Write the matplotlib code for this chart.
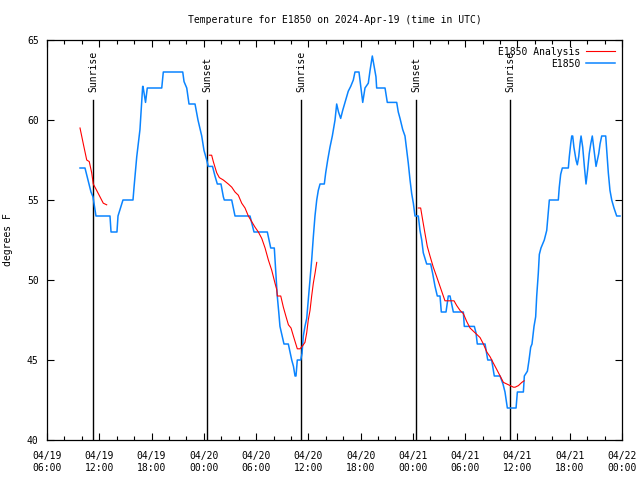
import pandas as pd
import matplotlib
matplotlib.use("Agg")
import matplotlib.pyplot as plt
import matplotlib.dates as mdates

START = pd.Timestamp("2024-04-19 06:00")
END = pd.Timestamp("2024-04-22 00:00")

# observed temperature, hours since 04/19 06:00 UTC
obs_hours = [3.79, 4.36, 4.59, 4.82, 5.05, 5.28, 5.62, 7.23, 7.35, 8.03, 8.15, 8.72, 9.87, 9.99,
             10.30, 10.67, 10.98, 11.02, 11.31, 11.51, 13.17, 13.35, 15.58, 15.73, 16.04, 16.30,
             16.99, 17.33, 17.76, 18.02, 18.33, 18.51, 19.00, 19.28, 19.55, 19.97, 20.24, 20.35,
             21.20, 21.58, 23.30, 23.76, 25.29, 25.68, 26.09, 26.29, 26.43, 26.60, 26.74, 27.20,
             27.70, 28.09, 28.29, 28.47, 28.58, 28.73, 29.12, 29.27, 29.42, 29.61, 29.81, 29.99,
             30.19, 30.38, 30.57, 30.76, 30.96, 31.14, 31.34, 31.83, 31.99, 32.22, 32.48, 32.75,
             33.06, 33.25, 33.46, 33.71, 33.94, 34.21, 34.58, 34.86, 35.16, 35.35, 35.81, 36.01,
             36.24, 36.50, 36.88, 37.08, 37.34, 37.53, 37.76, 37.84, 38.80, 39.06, 40.14, 40.32,
             40.52, 40.83, 41.09, 41.29, 41.47, 41.67, 41.86, 42.05, 42.24, 42.62, 42.81, 43.01,
             43.19, 43.58, 44.04, 44.27, 44.54, 44.80, 45.11, 45.26, 45.80, 45.99, 46.06, 46.26,
             46.64, 47.79, 47.90, 49.05, 49.24, 49.39, 50.28, 50.59, 51.04, 51.34, 52.00, 52.34,
             52.57, 52.84, 53.84, 53.99, 54.68, 54.79, 55.14, 55.33, 55.52, 55.67, 55.90, 56.09,
             56.21, 56.39, 56.51, 56.70, 57.08, 57.36, 57.54, 57.66, 58.69, 58.80, 58.96, 59.15,
             59.84, 59.95, 60.11, 60.23, 60.34, 60.48, 60.72, 60.87, 61.03, 61.18, 61.30, 61.49,
             61.68, 61.87, 62.06, 62.24, 62.41, 62.59, 62.79, 63.02, 63.33, 63.48, 63.67, 64.13,
             64.25, 64.43, 64.62, 64.82, 65.08, 65.39, 65.77]
obs_temp = [57, 57, 56.5, 56, 55.5, 55.2, 54, 54, 53, 53, 54, 55, 55, 55.8,
            57.7, 59.4, 62.1, 62.1, 61.1, 62, 62, 63, 63, 62.4, 62, 61,
            61, 60, 59, 58.1, 57.5, 57.1, 57.1, 56.5, 56, 56, 55.2, 55,
            55, 54, 54, 53, 53, 52, 52, 50.2, 49, 48, 47.1, 46,
            46, 45, 44.6, 44, 44, 45, 45, 45.4, 46.5, 47.1, 47.6, 48.75,
            50, 51.25, 52.7, 54, 55, 55.6, 56, 56, 56.7, 57.5, 58.3, 59,
            60, 61, 60.5, 60.1, 60.6, 61.1, 61.8, 62.1, 62.5, 63, 63, 62.1,
            61.1, 62, 62.3, 63.1, 64, 63.4, 62.7, 62, 62, 61.1, 61.1, 60.5,
            60.1, 59.4, 59, 58.1, 57.3, 56.25, 55.4, 54.8, 54, 54, 53.1, 52.5,
            51.7, 51, 51, 50.4, 49.6, 49, 49, 48, 48, 48.75, 49, 49,
            48, 48, 47.1, 47.1, 46.7, 46, 46, 45, 45, 44, 44, 43.5,
            43, 42, 42, 43, 43, 44, 44.3, 45, 45.8, 46, 47.1, 47.7,
            49, 50.4, 51.6, 52, 52.5, 53.1, 54.2, 55, 55, 55.8, 56.6, 57,
            57, 57.7, 58.5, 59, 59, 58.3, 57.5, 57.2, 57.7, 58.5, 59, 58.3,
            57.1, 56, 56.9, 57.9, 58.5, 59, 58.1, 57.1, 57.9, 58.5, 59, 59,
            58.1, 56.7, 55.6, 55, 54.5, 54, 54]

# analysis runs (three separate segments)
ana1_hours = [3.79, 4.17, 4.56, 4.85, 5.13, 5.31, 5.70, 6.08, 6.46, 6.85]
ana1_temp = [59.5, 58.5, 57.5, 57.4, 56.7, 56, 55.6, 55.2, 54.8, 54.7]
ana2_hours = [18.63, 18.90, 19.09, 19.48, 19.78, 20.24, 20.81, 21.21, 21.58, 21.96, 22.35,
              22.73, 23.11, 23.88, 24.26, 24.65, 25.03, 25.41, 25.80, 26.17, 26.37, 26.44,
              26.83, 27.13, 27.44, 27.71, 28.01, 28.28, 28.56, 28.73, 29.04, 29.35, 29.61,
              29.81, 29.99, 30.19, 30.38, 30.57, 30.76, 30.96]
ana2_temp = [57.8, 57.8, 57.4, 56.7, 56.4, 56.25, 56, 55.8, 55.5, 55.3, 54.8,
             54.5, 54, 53.3, 53, 52.6, 52, 51.25, 50.6, 49.8, 49.4, 49,
             49, 48.3, 47.7, 47.2, 47, 46.5, 46, 45.7, 45.7, 45.9, 46.1,
             46.7, 47.5, 48.1, 49, 49.8, 50.4, 51.1]
ana3_hours = [42.62, 42.89, 43.12, 43.39, 43.65, 43.96, 44.34, 44.73, 45.11, 45.49, 45.68,
              46.72, 47.03, 47.41, 47.79, 48.18, 48.56, 48.94, 49.33, 49.71, 50.09, 50.48,
              50.86, 51.24, 51.63, 52.01, 52.39, 52.78, 53.16, 53.54, 53.73, 54.11, 54.50, 54.76]
ana3_temp = [54.5, 54.5, 53.75, 52.9, 52.1, 51.5, 50.8, 50.2, 49.6, 49, 48.7,
             48.7, 48.4, 48.1, 47.9, 47.4, 47, 46.8, 46.6, 46.4, 46, 45.5,
             45.2, 44.8, 44.4, 44, 43.6, 43.5, 43.4, 43.3, 43.3, 43.4, 43.6, 43.7]

sun_hours = [5.28, 18.37, 29.16, 42.37, 53.16]
sun_labels = ["Sunrise", "Sunset", "Sunrise", "Sunset", "Sunrise"]

RED = "#ff0000"
BLUE = "#0a84ff"
FONT = "DejaVu Sans Mono"


def to_time(hours):
    return START + pd.to_timedelta(hours, unit="h")


plt.rcParams["font.family"] = FONT
plt.rcParams["font.size"] = 7

fig = plt.figure(figsize=(6.4, 4.8), dpi=100)
ax = fig.add_axes([47 / 640, 40 / 480, 575 / 640, 400 / 480])

first = True
for hrs, tmp in [(ana1_hours, ana1_temp), (ana2_hours, ana2_temp), (ana3_hours, ana3_temp)]:
    ax.plot(to_time(hrs), tmp, color=RED, linewidth=0.8,
            label="E1850 Analysis" if first else None, zorder=3)
    first = False
ax.plot(to_time(obs_hours), obs_temp, color=BLUE, linewidth=1.1, label="E1850", zorder=2)

for h, lab in zip(sun_hours, sun_labels):
    t = to_time(h)
    ax.axvline(t, ymin=0, ymax=0.85, color="black", linewidth=1.0, zorder=1)
    ax.text(t, 0.87, lab, transform=ax.get_xaxis_transform(), rotation=90,
            ha="center", va="bottom", fontsize=7)

ax.set_xlim(START, END)
ax.set_ylim(40, 65)
ax.set_yticks([40, 45, 50, 55, 60, 65])
ax.xaxis.set_major_locator(mdates.HourLocator(byhour=[0, 6, 12, 18]))
ax.xaxis.set_minor_locator(mdates.HourLocator(byhour=range(0, 24, 2)))
ax.xaxis.set_major_formatter(mdates.DateFormatter("%m/%d\n%H:%M"))
ax.tick_params(which="both", direction="in", top=True, right=True, labelsize=7)
ax.tick_params(axis="x", pad=8)
ax.tick_params(axis="y", pad=6)
ax.tick_params(which="major", length=5, width=0.8)
ax.tick_params(which="minor", length=3, width=0.8)
for sp in ax.spines.values():
    sp.set_linewidth(0.9)

ax.set_ylabel("degrees F", fontsize=7, labelpad=10)
ax.set_title("Temperature for E1850 on 2024-Apr-19 (time in UTC)", fontsize=7, pad=12)

ax.legend(loc="upper right", frameon=False, markerfirst=False, fontsize=7,
          handlelength=3.0, handletextpad=0.6, labelspacing=0.2,
          borderaxespad=0.3)

fig.savefig("out.png", dpi=100)
